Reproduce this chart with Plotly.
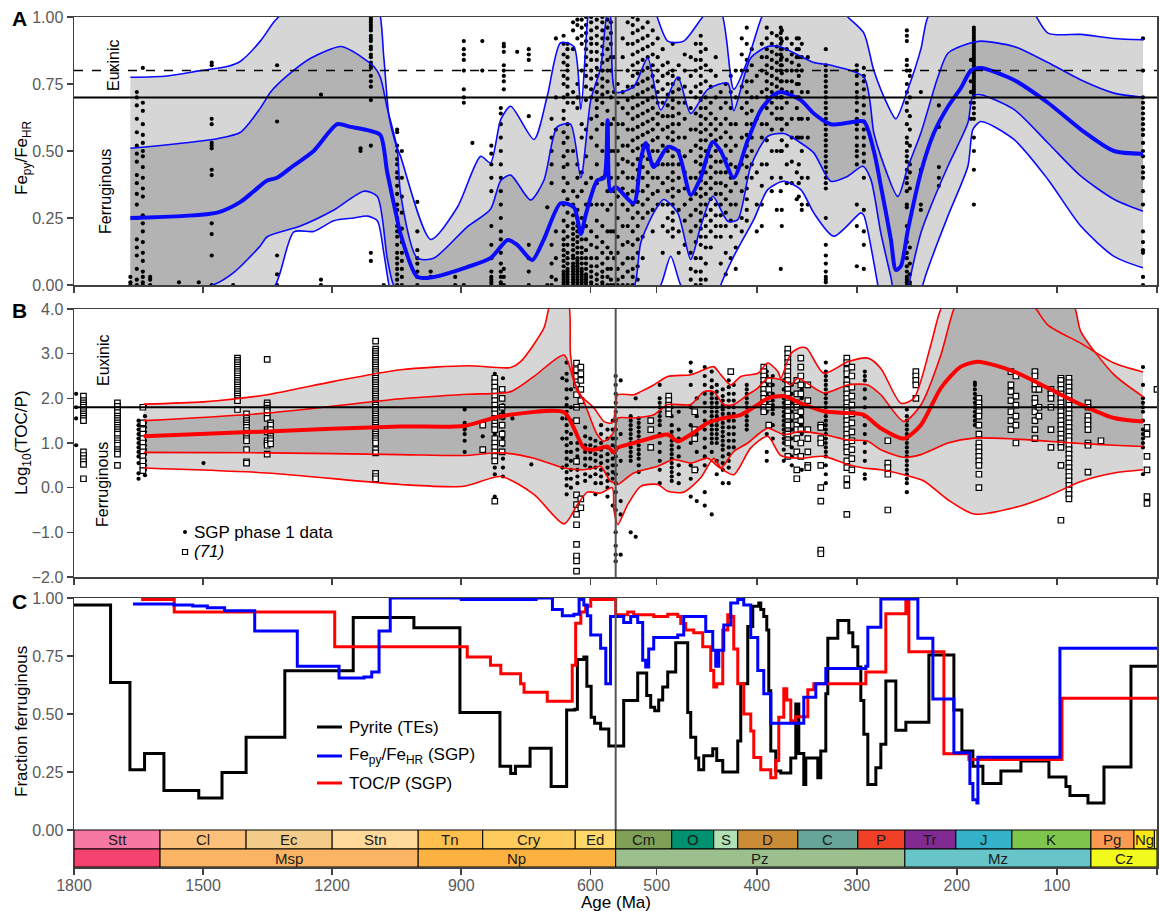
import numpy as np
import plotly.graph_objects as go

# ================= DATA =================
# ---- Panel A: Fe_py/Fe_HR data columns (age Ma -> values) ----
a_pt_ages = [1669, 1654, 1640, 1623, 1556, 1510, 1480, 1430, 1328, 1226, 1134, 1110, 1080, 1049, 1038, 1002, 971,
             914, 894, 874, 851, 830, 808, 801, 770, 743, 700, 690, 680,
             662, 653, 640, 630, 620, 610, 598, 585, 572, 560, 552, 545,
             539, 534, 529, 524, 519, 514, 509, 504, 499, 494, 489, 484, 478, 472, 466, 461, 456, 451, 446, 441,
             436, 431, 426, 421, 415, 410, 405, 400, 395, 390, 385, 380, 376, 375, 370, 365, 360, 358, 355, 349,
             331, 300, 293, 250, 247, 236, 218, 186, 183, 14]
a_pt_vals = [
    [0.0, 0.01, 0.03],
    [0.72, 0.70, 0.67, 0.62, 0.57, 0.52, 0.49, 0.46, 0.41, 0.38, 0.34, 0.30, 0.25, 0.17, 0.14, 0.11, 0.06, 0.02, 0.0],
    [0.81, 0.68, 0.65, 0.60, 0.56, 0.53, 0.50, 0.48, 0.44, 0.40, 0.36, 0.33, 0.26, 0.23, 0.20, 0.16, 0.12, 0.09, 0.05, 0.03, 0.01, 0.0],
    [0.03, 0.02, 0.0],
    [0.01],
    [0.01],
    [0.83, 0.82, 0.62, 0.60, 0.53, 0.52, 0.51, 0.43, 0.41, 0.23, 0.19, 0.11, 0.0],
    [0.0],
    [0.82, 0.61, 0.11, 0.04, 0.0],
    [0.71, 0.02, 0.0],
    [0.50, 0.51],
    [1.0, 0.99, 0.98, 0.97, 0.96, 0.95, 0.93, 0.92, 0.91, 0.89, 0.88, 0.86, 0.85, 0.83, 0.82, 0.81, 0.78, 0.76, 0.74, 0.69, 0.52, 0.12, 0.09],
    [0.0],
    [0.58, 0.57, 0.52, 0.50, 0.47, 0.45, 0.42, 0.40, 0.37, 0.34, 0.30, 0.28, 0.25, 0.22, 0.20, 0.18, 0.15, 0.12, 0.10, 0.08, 0.06, 0.04, 0.02, 0.0],
    [0.50, 0.40, 0.33, 0.27, 0.21, 0.16, 0.12, 0.09, 0.06, 0.03, 0.0],
    [0.31, 0.20, 0.13, 0.10, 0.08, 0.05, 0.03, 0.0],
    [0.05, 0.03],
    [0.03, 0.0],
    [0.91, 0.88, 0.86, 0.84, 0.80, 0.73, 0.70, 0.68, 0.0],
    [0.53],
    [0.91, 0.80],
    [0.52, 0.49, 0.45, 0.40, 0.35, 0.22, 0.15, 0.10, 0.05, 0.03, 0.02, 0.01, 0.0],
    [0.66, 0.64, 0.60, 0.55, 0.50, 0.45, 0.40, 0.35, 0.30, 0.25, 0.20, 0.17, 0.12, 0.08, 0.05, 0.03, 0.01, 0.0],
    [0.90, 0.89, 0.87, 0.82, 0.80, 0.78, 0.76, 0.73, 0.06, 0.03, 0.0],
    [0.87],
    [0.88, 0.86, 0.84, 0.63, 0.15, 0.10, 0.05, 0.0],
    [0.29, 0.0],
    [0.62, 0.55, 0.50, 0.45, 0.38, 0.15, 0.08, 0.03, 0.0],
    [0.92, 0.70, 0.58, 0.20, 0.10, 0.02],
    [0.93, 0.90, 0.86, 0.83, 0.78, 0.75, 0.70, 0.65, 0.62, 0.57, 0.53, 0.48, 0.44, 0.40, 0.35, 0.30, 0.24, 0.20, 0.17, 0.15, 0.13, 0.11, 0.09, 0.07, 0.05, 0.04, 0.03, 0.02, 0.01, 0.0],
    [0.90, 0.88, 0.85, 0.82, 0.80, 0.77, 0.74, 0.71, 0.68, 0.60, 0.55, 0.50, 0.45, 0.38, 0.32, 0.27, 0.22, 0.18, 0.15, 0.12, 0.10, 0.08, 0.06, 0.05, 0.04, 0.03, 0.02, 0.01, 0.0],
    [0.98, 0.95, 0.88, 0.72, 0.68, 0.50, 0.35, 0.30, 0.26, 0.23, 0.21, 0.19, 0.17, 0.15, 0.13, 0.11, 0.10, 0.08, 0.07, 0.06, 0.05, 0.04, 0.03, 0.02, 0.01, 0.0],
    [0.99, 0.97, 0.92, 0.75, 0.70, 0.66, 0.45, 0.40, 0.33, 0.28, 0.25, 0.22, 0.20, 0.18, 0.16, 0.14, 0.12, 0.10, 0.09, 0.08, 0.07, 0.06, 0.05, 0.04, 0.03, 0.02, 0.01, 0.0],
    [0.99, 0.96, 0.93, 0.90, 0.80, 0.60, 0.55, 0.42, 0.35, 0.25, 0.20, 0.17, 0.14, 0.12, 0.10, 0.08, 0.06, 0.05, 0.04, 0.03, 0.02, 0.01, 0.0],
    [1.0, 0.97, 0.94, 0.91, 0.88, 0.85, 0.82, 0.78, 0.74, 0.69, 0.58, 0.48, 0.38, 0.30, 0.22, 0.17, 0.13, 0.10, 0.08, 0.06, 0.04, 0.03, 0.02, 0.01, 0.0],
    [1.0, 0.98, 0.95, 0.92, 0.90, 0.87, 0.84, 0.80, 0.77, 0.73, 0.70, 0.62, 0.55, 0.40, 0.30, 0.20, 0.15, 0.10, 0.07, 0.05, 0.03, 0.01, 0.0],
    [0.99, 0.96, 0.93, 0.90, 0.87, 0.84, 0.81, 0.78, 0.75, 0.72, 0.69, 0.66, 0.63, 0.58, 0.52, 0.45, 0.38, 0.30, 0.24, 0.18, 0.14, 0.10, 0.07, 0.04, 0.02, 0.0],
    [1.0, 0.98, 0.95, 0.92, 0.89, 0.86, 0.83, 0.80, 0.77, 0.74, 0.71, 0.68, 0.60, 0.50, 0.40, 0.30, 0.22, 0.16, 0.12, 0.08, 0.05, 0.03, 0.01, 0.0],
    [0.99, 0.96, 0.92, 0.88, 0.84, 0.80, 0.76, 0.72, 0.65, 0.55, 0.45, 0.35, 0.28, 0.20, 0.14, 0.10, 0.06, 0.03, 0.0],
    [0.98, 0.94, 0.90, 0.85, 0.80, 0.70, 0.60, 0.50, 0.40, 0.30, 0.20, 0.12, 0.06, 0.02, 0.0],
    [0.85, 0.72, 0.62, 0.50, 0.35, 0.20, 0.10, 0.0],
    [0.75, 0.68, 0.60, 0.55, 0.50, 0.45, 0.40, 0.33, 0.25, 0.18, 0.12, 0.06, 0.02, 0.0],
    [0.92, 0.85, 0.72, 0.66, 0.60, 0.52, 0.47, 0.42, 0.36, 0.30, 0.22, 0.15, 0.08, 0.03, 0.0],
    [0.98, 0.90, 0.80, 0.74, 0.69, 0.64, 0.58, 0.52, 0.46, 0.40, 0.34, 0.28, 0.22, 0.16, 0.10, 0.05, 0.0],
    [1.0, 0.97, 0.94, 0.90, 0.86, 0.82, 0.78, 0.74, 0.70, 0.66, 0.62, 0.58, 0.54, 0.50, 0.45, 0.40, 0.35, 0.30, 0.25, 0.20, 0.15, 0.10, 0.06, 0.03, 0.0],
    [0.99, 0.95, 0.91, 0.87, 0.83, 0.79, 0.75, 0.71, 0.67, 0.63, 0.59, 0.55, 0.51, 0.47, 0.43, 0.39, 0.35, 0.31, 0.27, 0.22, 0.17, 0.12, 0.07, 0.02],
    [0.96, 0.92, 0.88, 0.84, 0.80, 0.76, 0.72, 0.68, 0.64, 0.60, 0.56, 0.52, 0.48, 0.44, 0.40, 0.35, 0.30, 0.25, 0.18, 0.10],
    [0.98, 0.93, 0.89, 0.85, 0.81, 0.77, 0.73, 0.69, 0.65, 0.61, 0.57, 0.52, 0.47, 0.42, 0.37, 0.32, 0.27],
    [0.95, 0.90, 0.86, 0.82, 0.78, 0.74, 0.70, 0.66, 0.62, 0.58, 0.54, 0.50, 0.45, 0.40, 0.34, 0.28, 0.20],
    [0.92, 0.85, 0.80, 0.76, 0.72, 0.68, 0.64, 0.60, 0.55, 0.50, 0.45, 0.40, 0.35, 0.30],
    [0.88, 0.82, 0.78, 0.73, 0.68, 0.63, 0.58, 0.52, 0.45, 0.38, 0.30, 0.22, 0.12],
    [0.83, 0.79, 0.75, 0.71, 0.67, 0.63, 0.59, 0.55, 0.50, 0.45, 0.40, 0.35, 0.30, 0.25, 0.20],
    [0.90, 0.80, 0.78, 0.75, 0.72, 0.69, 0.66, 0.63, 0.60, 0.57, 0.54, 0.51, 0.48, 0.45, 0.42, 0.39, 0.36, 0.33, 0.30, 0.27, 0.24, 0.21, 0.18],
    [0.82, 0.77, 0.73, 0.68, 0.64, 0.60, 0.55, 0.50, 0.45, 0.40, 0.35, 0.28, 0.20, 0.12],
    [0.86, 0.80, 0.74, 0.68, 0.62, 0.55, 0.48, 0.42, 0.36, 0.30, 0.24, 0.15],
    [0.85, 0.78, 0.72, 0.66, 0.58, 0.50, 0.40, 0.32, 0.26, 0.20, 0.12, 0.06, 0.02],
    [0.90, 0.84, 0.80, 0.74, 0.70, 0.64, 0.58, 0.52, 0.46, 0.40, 0.34, 0.28, 0.22, 0.16, 0.10, 0.05, 0.0],
    [0.93, 0.90, 0.87, 0.84, 0.81, 0.78, 0.75, 0.72, 0.69, 0.66, 0.63, 0.60, 0.57, 0.54, 0.51, 0.48, 0.45, 0.42, 0.39, 0.36, 0.33, 0.30, 0.27, 0.24, 0.21, 0.18, 0.15, 0.10, 0.05, 0.02, 0.0],
    [0.88, 0.82, 0.76, 0.70, 0.66, 0.62, 0.58, 0.54, 0.50, 0.46, 0.42, 0.38, 0.34, 0.30, 0.26, 0.22, 0.18, 0.14, 0.08, 0.02],
    [0.80, 0.74, 0.68, 0.64, 0.60, 0.56, 0.52, 0.48, 0.44, 0.40, 0.36, 0.32, 0.28, 0.24, 0.20, 0.14],
    [0.85, 0.78, 0.70, 0.62, 0.58, 0.54, 0.50, 0.46, 0.42, 0.38, 0.34, 0.30, 0.26, 0.22, 0.18],
    [0.72, 0.66, 0.60, 0.55, 0.50, 0.46, 0.42, 0.38, 0.34, 0.30, 0.26, 0.22, 0.18, 0.08],
    [0.75, 0.68, 0.62, 0.57, 0.52, 0.47, 0.42, 0.37, 0.32, 0.27, 0.22, 0.12, 0.04],
    [0.78, 0.72, 0.66, 0.60, 0.55, 0.50, 0.45, 0.40, 0.35, 0.30, 0.24, 0.18, 0.10],
    [0.80, 0.70, 0.60, 0.52, 0.44, 0.38, 0.30, 0.22, 0.14, 0.06],
    [0.92, 0.86, 0.80, 0.74, 0.66, 0.55, 0.45, 0.35, 0.25, 0.20],
    [0.96, 0.90, 0.84, 0.80, 0.76, 0.72, 0.68, 0.64, 0.60, 0.56, 0.52, 0.48, 0.44, 0.40, 0.36, 0.32, 0.28, 0.24],
    [0.88, 0.82, 0.76, 0.70, 0.65, 0.60, 0.55, 0.50, 0.45, 0.40],
    [0.78, 0.70, 0.62, 0.42, 0.30, 0.20],
    [0.90, 0.85, 0.80, 0.72, 0.60, 0.55, 0.45, 0.37, 0.30, 0.22],
    [0.96, 0.92, 0.88, 0.85, 0.82, 0.79, 0.76, 0.73, 0.70, 0.66, 0.60, 0.54, 0.45],
    [0.94, 0.90, 0.87, 0.84, 0.81, 0.78, 0.75, 0.72, 0.68, 0.64, 0.58, 0.50, 0.40, 0.35],
    [0.93, 0.89, 0.86, 0.83, 0.80, 0.77, 0.74, 0.70, 0.66, 0.62, 0.50, 0.28],
    [0.96, 0.94, 0.92, 0.90, 0.88, 0.86, 0.84, 0.82, 0.80, 0.76, 0.70, 0.62, 0.50, 0.40, 0.35, 0.06],
    [0.95, 0.91, 0.88, 0.85, 0.82, 0.79, 0.76, 0.73, 0.70, 0.66, 0.62, 0.58, 0.54, 0.50, 0.28, 0.22],
    [0.92, 0.88, 0.84, 0.80, 0.76, 0.72, 0.68, 0.60, 0.52, 0.45, 0.38],
    [0.90, 0.86, 0.83, 0.80, 0.76, 0.72, 0.62, 0.55, 0.46, 0.38],
    [0.92, 0.88, 0.85, 0.80, 0.75, 0.70, 0.66, 0.55, 0.42, 0.32],
    [0.92, 0.88, 0.85, 0.82, 0.78, 0.75, 0.70, 0.62, 0.55, 0.45, 0.38, 0.33],
    [0.90, 0.85, 0.80, 0.72, 0.62, 0.55, 0.50, 0.40, 0.30, 0.28],
    [0.85, 0.72, 0.62, 0.55, 0.40, 0.30],
    [0.88, 0.82, 0.80, 0.78, 0.76, 0.74, 0.72, 0.70, 0.68, 0.66, 0.64, 0.62, 0.60, 0.58, 0.56, 0.54, 0.52, 0.50, 0.48, 0.46, 0.44, 0.42, 0.40, 0.38, 0.36, 0.25, 0.15, 0.11, 0.08, 0.05, 0.03, 0.02, 0.01],
    [0.82, 0.80, 0.78, 0.75, 0.72, 0.70, 0.68, 0.65, 0.62, 0.60, 0.58, 0.55, 0.52, 0.50, 0.48, 0.45, 0.30, 0.22, 0.07],
    [0.81, 0.78, 0.76, 0.73, 0.70, 0.67, 0.64, 0.61, 0.58, 0.55, 0.52, 0.49, 0.46, 0.40, 0.28, 0.20, 0.15, 0.06],
    [0.95, 0.93, 0.91, 0.84, 0.82, 0.80, 0.75, 0.72, 0.68, 0.65, 0.60, 0.55, 0.53, 0.50, 0.48, 0.46, 0.43, 0.40, 0.38, 0.35, 0.30, 0.29, 0.22, 0.16, 0.12, 0.10, 0.07, 0.05, 0.03, 0.02, 0.01, 0.0],
    [0.80, 0.78, 0.70, 0.63, 0.58, 0.52, 0.45, 0.42, 0.36, 0.14, 0.08, 0.04, 0.01, 0.0],
    [0.72, 0.43, 0.30, 0.28],
    [0.67, 0.59, 0.44, 0.40, 0.37],
    [0.84, 0.80, 0.76, 0.72, 0.68, 0.62],
    [0.96, 0.95, 0.94, 0.93, 0.92, 0.91, 0.90, 0.89, 0.88, 0.87, 0.86, 0.85, 0.84, 0.83, 0.82, 0.81, 0.80, 0.79, 0.78, 0.77, 0.76, 0.75, 0.74, 0.73, 0.72, 0.71, 0.70, 0.68, 0.66, 0.64, 0.62, 0.55, 0.50, 0.43, 0.30],
    [0.92, 0.80, 0.70, 0.68, 0.66, 0.64, 0.62, 0.60, 0.58, 0.56, 0.53, 0.50, 0.48, 0.44, 0.42, 0.40, 0.35, 0.30, 0.20, 0.16, 0.13, 0.12, 0.03, 0.0],
]

# Panel A model envelopes (age Ma, value)
a_ou_age = [1669, 1584, 1506, 1444, 1413, 1367, 1336, 1312, 1250, 1150, 1095, 1080, 1068, 1053, 1041, 971, 909, 855, 832, 808, 785, 731, 700, 669, 638, 622, 606, 590, 541, 510, 489, 473, 449, 436, 423, 409, 395, 380, 320, 309, 293, 283, 269, 261, 249, 236, 229, 200, 130, 109, 76, 43, 14]
a_ou_val = [0.775, 0.78, 0.80, 0.815, 0.835, 0.91, 0.98, 1.02, 1.10, 1.12, 1.05, 0.85, 0.63, 0.53, 0.48, 0.17, 0.29, 0.48, 0.456, 0.618, 0.667, 0.543, 0.705, 0.904, 0.89, 0.655, 1.0, 1.2, 1.2, 1.1, 0.91, 0.91, 1.02, 1.02, 0.73, 0.84, 1.0, 1.1, 1.05, 1.0, 0.94, 0.80, 0.67, 0.62, 0.73, 0.88, 1.0, 1.15, 1.05, 0.94, 0.935, 0.92, 0.915]
a_iu_age = [1669, 1467, 1413, 1367, 1343, 1305, 1250, 1180, 1150, 1103, 1088, 1072, 1049, 1041, 1002, 964, 886, 832, 808, 785, 739, 708, 677, 646, 622, 599, 576, 560, 553, 541, 523, 509, 496, 479, 466, 449, 429, 423, 406, 389, 376, 343, 326, 293, 283, 276, 259, 249, 236, 219, 209, 189, 176, 143, 109, 76, 43, 14]
a_iu_val = [0.51, 0.546, 0.57, 0.66, 0.72, 0.78, 0.846, 0.89, 0.87, 0.815, 0.775, 0.66, 0.51, 0.34, 0.10, 0.10, 0.217, 0.283, 0.39, 0.41, 0.317, 0.39, 0.59, 0.60, 0.40, 0.69, 0.81, 1.02, 1.0, 0.72, 0.74, 0.847, 0.653, 0.776, 0.64, 0.73, 0.753, 0.65, 0.847, 0.89, 0.888, 0.83, 0.82, 0.776, 0.567, 0.48, 0.33, 0.44, 0.567, 0.776, 0.865, 0.90, 0.91, 0.89, 0.83, 0.765, 0.716, 0.70]
a_md_age = [1669, 1467, 1413, 1382, 1351, 1328, 1289, 1243, 1188, 1157, 1118, 1088, 1072, 1049, 1041, 1002, 964, 886, 832, 792, 770, 735, 708, 669, 638, 622, 611, 584, 568, 560, 553, 541, 523, 516, 511, 503, 489, 479, 466, 456, 444, 436, 423, 409, 396, 383, 376, 356, 343, 326, 309, 293, 283, 276, 266, 261, 256, 249, 236, 223, 209, 196, 186, 176, 143, 109, 76, 43, 14]
a_md_val = [0.25, 0.27, 0.31, 0.35, 0.39, 0.40, 0.446, 0.50, 0.60, 0.59, 0.578, 0.56, 0.42, 0.246, 0.19, 0.03, 0.03, 0.067, 0.10, 0.168, 0.15, 0.093, 0.17, 0.305, 0.29, 0.19, 0.26, 0.39, 0.40, 0.615, 0.35, 0.366, 0.305, 0.467, 0.53, 0.44, 0.515, 0.50, 0.336, 0.40, 0.534, 0.50, 0.40, 0.54, 0.653, 0.709, 0.72, 0.69, 0.64, 0.60, 0.605, 0.61, 0.50, 0.37, 0.17, 0.056, 0.07, 0.205, 0.42, 0.567, 0.665, 0.735, 0.80, 0.81, 0.765, 0.68, 0.58, 0.50, 0.49]
a_il_age = [1669, 1477, 1429, 1367, 1351, 1274, 1196, 1126, 1095, 1072, 1057, 1041, 1010, 700, 541, 523, 516, 503, 493, 479, 466, 456, 444, 429, 419, 406, 389, 373, 356, 343, 326, 309, 294, 286, 276, 266, 261, 249, 248, 236, 226, 209, 189, 184, 176, 143, 109, 76, 43, 14]
a_il_val = [-0.05, 0.0, 0.046, 0.146, 0.18, 0.22, 0.28, 0.35, 0.33, 0.10, 0.0, -0.02, -0.05, -0.05, -0.05, -0.01, 0.157, 0.269, 0.319, 0.269, 0.095, 0.219, 0.331, 0.238, 0.244, 0.443, 0.555, 0.565, 0.53, 0.493, 0.387, 0.406, 0.443, 0.394, 0.194, 0.03, -0.05, -0.05, 0.0, 0.194, 0.294, 0.443, 0.605, 0.705, 0.71, 0.655, 0.53, 0.406, 0.32, 0.275]
a_ol_age = [1669, 1400, 1332, 1289, 1243, 1196, 1150, 1118, 1095, 1080, 1068, 1041, 700, 541, 503, 496, 486, 476, 470, 440, 436, 423, 403, 389, 373, 356, 343, 323, 296, 293, 279, 270, 240, 234, 209, 189, 184, 176, 143, 109, 76, 43, 14]
a_ol_val = [-0.2, -0.1, 0.0, 0.198, 0.20, 0.24, 0.25, 0.257, 0.24, 0.12, 0.0, -0.2, -0.3, -0.3, -0.02, 0.0, 0.107, 0.0, -0.02, -0.05, 0.0, 0.107, 0.244, 0.356, 0.387, 0.356, 0.269, 0.182, 0.269, 0.26, 0.0, -0.2, -0.2, 0.0, 0.257, 0.443, 0.58, 0.61, 0.543, 0.394, 0.219, 0.107, 0.064]

# ---- Panel B: Log10(TOC/P) ----
b_dot_ages = [1795, 1650, 1635, 1499, 892, 850, 822, 803, 781, 737, 665, 655, 645, 630, 612, 600, 588, 575, 560, 548,
              541, 536, 526, 521, 518, 497, 485, 478, 466, 460, 452, 445, 440, 434, 428, 423, 410, 390, 384, 373, 365,
              355, 331, 292, 250, 182, 14]
b_dot_vals = [
    [2.1, 1.8, 1.55, 0.95],
    [1.50, 1.40, 1.30, 1.20, 1.10, 1.00, 0.90, 0.80, 0.70, 0.55, 0.32, 0.20],
    [1.82, 1.60, 1.45, 1.35, 1.25, 1.15, 1.05, 0.95, 0.85, 0.75, 0.60, 0.50, 0.40, 0.28],
    [0.55],
    [1.75, 1.45, 1.40, 1.35, 1.30, 1.20, 1.05, 0.80],
    [1.15],
    [2.55, 2.30, 2.10, 1.95, 1.80, 1.65, 1.50, 1.35, 1.20, 1.05, 0.90, 0.75, 0.60, 0.45, 0.30, -0.20],
    [2.45, 2.20, 2.00, 1.85, 1.70, 1.55, 1.40, 1.25, 1.10, 0.95, 0.80, 0.65, 0.45, 0.25],
    [1.55],
    [0.52],
    [2.45, 1.55, 1.10, 0.45],
    [2.80, 2.55, 2.40, 2.20, 2.00, 1.85, 1.70, 1.55, 1.40, 1.25, 1.10, 0.95, 0.80, 0.65, 0.50, 0.35, 0.20, 0.05, -0.15],
    [2.20, 1.80, 1.50, 1.20, 1.00, 0.80, 0.60, 0.40, 0.20, 0.00],
    [1.00, 0.85, 0.70, 0.55, 0.40, 0.25, 0.10],
    [1.35, 1.15, 0.95, 0.80, 0.65, 0.50, 0.30, 0.15],
    [1.10, 0.95, 0.80, 0.65, 0.45, 0.25],
    [1.05, 0.90, 0.75, 0.60, 0.45, 0.30, 0.10, -0.15],
    [1.40, 1.20, 1.00, 0.85, 0.70, 0.55, 0.40, 0.25, 0.10],
    [1.30, 1.10, 0.90, 0.75, 0.60, 0.45, 0.30, 0.15, 0.00, -0.20],
    [1.50, 1.30, 1.10, 0.95, 0.80, 0.65, 0.50, 0.35, 0.20, -0.40],
    [2.50, 2.30, 2.10, 1.90, 1.70, 1.50, 1.30, 1.10, 0.90, 0.70, 0.50, 0.30, 0.10, -0.10, -0.50, -1.00, -1.30, -1.50, -1.65],
    [2.40, 1.20, 0.60, -0.30, -0.60, -1.50],
    [1.60, 1.50, 1.40, 1.30, 1.20, 1.10, 1.00, 0.90, 0.80, 0.70, 0.60, -1.00],
    [2.00, -1.10],
    [1.55, 1.45, 1.35, 1.25, 1.15, 1.05, 0.95, 0.85, 0.75, 0.65, 0.50, 0.35],
    [2.30, 2.00, 1.90, 1.80, 1.70, 1.60, 1.50, 1.40, 1.20, 1.00, 0.80, 0.60, 0.40, 0.10],
    [1.80, 1.60, 1.40, 1.25, 1.15, 1.05, 0.95, 0.85, 0.75, 0.65, 0.55, 0.45, 0.35, 0.25, 0.15],
    [1.70, 1.30, 1.10, 0.90, 0.70, 0.50, 0.30, 0.10],
    [2.80, 2.60, 2.30, 1.80, 1.40, 1.00, 0.50, 0.20, -0.20],
    [2.00, 1.60, 1.20, 0.80, 0.40, -0.30],
    [2.70, 2.50, 2.30, 2.10, 1.90, 1.70, 1.50, 1.30, 1.10, 0.90, 0.70, 0.50, -0.10, -0.40],
    [2.60, 2.40, 2.25, 2.10, 2.00, 1.90, 1.80, 1.70, 1.60, 1.50, 1.40, 1.30, 1.20, 1.10, 1.00, 0.80, -0.60],
    [2.30, 2.15, 2.00, 1.90, 1.80, 1.70, 1.60, 1.50, 1.40, 1.30, 1.20, 1.10, 1.00, 0.60, 0.30],
    [2.20, 2.05, 1.95, 1.85, 1.75, 1.65, 1.55, 1.45, 1.35, 1.25, 1.15, 1.05, 0.95, 0.85, 0.70, 0.55, 0.40, 0.10],
    [2.40, 2.25, 2.10, 1.95, 1.80, 1.65, 1.50, 1.35, 1.20, 1.05, 0.90, 0.75, 0.60, 0.45, 0.10],
    [2.30, 2.10, 1.95, 1.80, 1.65, 1.50, 1.35, 1.20, 1.05, 0.90],
    [2.30, 2.20, 2.10, 2.00, 1.90, 1.80, 1.70, 1.60, 1.50, 1.40, 1.30],
    [2.60, 2.50, 2.40, 2.30, 2.20, 2.10, 2.00, 1.90, 1.80, 1.70, 1.20, 0.80, 0.60],
    [2.50, 2.30, 2.10, 1.95, 1.85, 1.75, 1.65, 1.40, 1.10],
    [2.40, 2.20, 2.00, 1.90, 1.80, 1.70, 1.60, 1.50, 1.40, 1.30, 1.20, 1.10, 1.00, 0.85, 0.60],
    [2.30, 2.10, 1.90, 1.70, 1.50, 1.30, 1.10, 0.90, 0.70, 0.50],
    [2.20, 2.00, 1.80, 1.60, 1.40, 1.20, 1.00, 0.70, 0.40],
    [2.80, 2.60, 2.50, 2.40, 2.30, 2.20, 2.10, 2.00, 1.90, 1.80, 1.70, 1.60, 1.50, 1.40, 1.30, 1.20, 1.10, 1.00, 0.90, 0.80, 0.70, 0.50, 0.30, 0.10],
    [2.60, 2.50, 2.40, 2.20, 2.00, 1.80, 1.60, 1.40, 1.20, 1.00, 0.80, 0.60, 0.30, 0.20],
    [1.75, 1.60, 1.50, 1.40, 1.30, 1.20, 1.10, 1.00, 0.90, 0.80, 0.70, 0.60, 0.50, 0.40, 0.30, 0.20, 0.10, -0.10],
    [2.35, 2.30, 2.20, 2.10, 2.00, 1.90, 1.80, 1.70, 1.60, 1.50, 1.40],
    [2.70, 2.30, 2.00, 1.90, 1.80, 1.70, 1.50, 1.30, 1.20, 1.10, 1.00, 0.90, 0.30],
]
b_sq_ages = [1778, 1699, 1640, 1420, 1399, 1351, 1343, 1099, 850, 822, 805, 632, 622, 506, 488, 462, 426, 393, 388,
             369, 360, 356, 349, 336, 310, 305, 269, 241, 178, 146, 141, 122, 118, 106, 96, 88, 69, 56, 10, 0]
b_sq_vals = [
    [2.05, 1.95, 1.90, 1.85, 1.80, 1.75, 1.70, 1.65, 1.60, 1.55, 1.50, 0.80, 0.72, 0.65, 0.58, 0.52, 0.20],
    [1.90, 1.82, 1.75, 1.68, 1.60, 1.55, 1.50, 1.45, 1.40, 1.35, 1.30, 1.25, 1.20, 1.10, 1.05, 1.00, 0.95, 0.85, 0.80, 0.75, 0.50],
    [1.80, 1.45, 1.30, 1.20, 1.10, 1.00, 0.90, 0.80, 0.70, 0.60, 0.48, 0.38],
    [2.90, 2.85, 2.80, 2.75, 2.70, 2.65, 2.60, 2.55, 2.50, 2.45, 2.40, 2.35, 2.30, 2.25, 2.20, 2.15, 2.10, 2.05, 2.00, 1.95, 1.75],
    [1.65, 1.55, 1.50, 1.45, 1.40, 1.35, 1.28, 1.22, 1.15, 1.10, 1.05, 0.85, 0.58, 0.55],
    [2.87, 1.90, 1.85, 1.78, 1.70, 1.62, 1.55, 1.30, 1.25, 1.05, 1.00, 0.95, 0.75],
    [1.45, 1.40, 1.30, 1.20, 1.15, 1.10, 1.05, 0.98],
    [3.28, 3.10, 3.05, 3.00, 2.95, 2.90, 2.85, 2.80, 2.75, 2.70, 2.65, 2.60, 2.55, 2.50, 2.45, 2.40, 2.35, 2.30, 2.25, 2.20, 2.15, 2.10, 2.05, 2.00, 1.95, 1.90, 1.85, 1.80, 1.75, 1.70, 1.65, 1.60, 1.55, 1.50, 1.45, 1.40, 1.35, 1.30, 1.25, 1.20, 1.15, 1.10, 1.05, 1.00, 0.85, 0.78, 0.32, 0.25, 0.20],
    [1.40, 0.85],
    [2.45, 2.35, 2.25, 2.15, 2.05, 1.95, 1.85, 1.75, 1.65, 1.55, 1.45, 1.38, 1.30, 1.10, 1.00, 0.90, 0.80, 0.70, 0.60, -0.30],
    [2.20, 2.00, 1.80, 1.60, 1.40, 1.20, 1.00, 0.80],
    [2.79, 2.64, 2.49, 2.30, 2.08, 1.80, 1.50, 0.59, -0.16, -0.38, -0.60, -0.83, -1.27, -1.53, -1.64, -1.87],
    [2.70, 2.55, 2.40, 2.20, 1.95, -0.25, -0.45],
    [1.50, 1.30, 0.90],
    [2.05, 1.95, 1.85, 1.75, 1.65],
    [1.70, 1.30, 1.10, 0.40],
    [2.60],
    [2.70, 2.60, 2.50, 2.40, 2.30, 2.20, 2.10, 2.00, 1.90, 1.80, 1.70],
    [2.40, 2.20, 2.00, 1.80, 1.40],
    [3.10, 3.00, 2.90, 2.80, 2.70, 2.60, 2.50, 2.40, 2.30, 2.20, 2.10, 2.00, 1.90, 1.80, 1.70, 1.60, 1.40, 1.20, 1.00, 0.70],
    [2.40, 2.10, 1.90, 1.80, 1.60, 1.40, 1.30, 1.10, 0.80, 0.40, 0.20],
    [2.90, 2.70, 2.50, 2.30, 2.10, 1.70, 1.50, 1.30, 1.00, 0.70],
    [2.30, 1.95, 1.30, 1.10, 0.80, 0.50, 0.45],
    [1.40, 1.35, 1.10, 1.00, 0.50, 0.00, -0.30, -1.40, -1.48],
    [2.90, 2.80, 2.65, 2.55, 2.40, 2.30, 2.20, 2.10, 2.00, 1.90, 1.80, 1.70, 1.60, 1.50, 1.40, 1.30, 1.20, 1.10, 1.00, 0.90, 0.80, 0.60, 0.45, 0.20, 0.05, -0.60],
    [2.70, 2.50, 2.25, 2.05, 1.85, 1.65, 1.45, 1.25, 1.05, 0.85, 0.65, 0.40],
    [1.05, 0.55, 0.45, 0.30, -0.50],
    [2.60, 2.50, 2.40, 2.30, 2.00],
    [2.00, 1.90, 1.80, 1.70, 1.60, 1.40, 1.20, 1.00, 0.90, 0.80, 0.70, 0.60, 0.50, 0.30, 0.00],
    [2.60, 2.30, 2.15, 1.95, 1.70, 1.50, 1.30],
    [2.50, 2.05, 1.85, 1.60, 1.40, 1.00],
    [2.60, 2.50, 2.30, 2.20, 2.00, 1.90, 1.70, 1.50, 1.30, 1.10],
    [2.20, 1.80, 1.60],
    [2.20, 2.10, 2.00, 1.80, 1.30, 0.90],
    [2.45, 2.40, 2.30, 2.20, 2.10, 2.00, 1.90, 1.80, 1.70, 1.60, 1.50, 1.40, 1.30, 1.20, 1.10, 1.00, 0.90, 0.50, -0.73],
    [2.45, 2.35, 2.25, 2.15, 2.05, 1.95, 1.85, 1.75, 1.65, 1.55, 1.45, 1.35, 1.25, 1.15, 1.05, 0.95, 0.85, 0.75, 0.65, 0.55, 0.45, 0.35, 0.25, 0.15, 0.05, -0.05, -0.15, -0.25],
    [1.90, 1.80, 1.60, 1.50, 1.40, 1.30, 1.00, 0.95, 0.35],
    [1.05],
    [1.35, 1.20, 0.70, 0.40, -0.20, -0.35],
    [2.20],
]

b_ou_age = [1638, 1500, 1351, 1196, 1041, 886, 785, 762, 708, 689, 653, 646, 630, 591, 568, 549, 541, 539, 523, 516, 503, 489, 466, 453, 443, 436, 426, 416, 399, 389, 379, 376, 366, 356, 350, 333, 309, 289, 276, 256, 243, 226, 216, 200, 129, 109, 76, 43, 14]
b_ou_val = [1.87, 1.92, 2.08, 2.38, 2.64, 2.73, 2.69, 2.82, 3.57, 4.2, 4.2, 2.97, 2.15, 1.78, 1.48, 1.45, 1.8, 2.08, 2.08, 2.15, 2.30, 2.49, 2.53, 2.64, 2.71, 2.53, 2.30, 2.49, 2.56, 2.79, 2.6, 2.45, 3.0, 3.14, 3.12, 2.56, 2.82, 2.90, 2.67, 1.89, 2.0, 3.2, 4.0, 4.5, 4.2, 3.64, 3.23, 2.79, 2.59]
b_iu_age = [1638, 1351, 1041, 886, 785, 731, 661, 638, 615, 584, 568, 549, 541, 539, 523, 503, 489, 466, 453, 443, 433, 423, 409, 399, 389, 373, 366, 359, 333, 309, 289, 276, 253, 236, 216, 203, 190, 86, 76, 43, 14]
b_iu_val = [1.50, 1.67, 1.99, 2.09, 2.15, 2.49, 2.97, 2.38, 1.93, 1.19, 1.04, 1.19, 1.4, 1.56, 1.56, 1.63, 1.86, 1.86, 2.15, 2.15, 1.86, 1.86, 2.08, 2.23, 2.45, 2.40, 2.30, 2.45, 2.12, 2.30, 2.30, 2.08, 1.48, 1.85, 2.97, 4.0, 4.5, 4.2, 3.49, 2.53, 2.04]
b_md_age = [1638, 1351, 1041, 894, 808, 661, 638, 615, 591, 560, 545, 539, 523, 499, 489, 479, 466, 449, 433, 416, 399, 389, 373, 356, 333, 309, 293, 276, 253, 236, 216, 196, 179, 143, 109, 76, 43, 14]
b_md_val = [1.15, 1.26, 1.37, 1.38, 1.60, 1.69, 1.33, 0.89, 0.85, 0.92, 0.78, 0.89, 1.0, 1.15, 1.19, 1.04, 1.19, 1.45, 1.56, 1.63, 1.86, 2.0, 2.05, 1.89, 1.71, 1.67, 1.63, 1.33, 1.10, 1.4, 2.23, 2.71, 2.82, 2.60, 2.23, 1.86, 1.56, 1.48]
b_il_age = [1638, 1351, 1041, 894, 808, 731, 661, 622, 591, 576, 553, 541, 539, 523, 499, 483, 466, 449, 436, 423, 409, 399, 389, 373, 356, 333, 309, 289, 276, 253, 236, 209, 183, 143, 109, 76, 43, 14]
b_il_val = [0.79, 0.78, 0.74, 0.72, 0.78, 0.66, 0.44, 0.40, 0.44, 0.48, 0.14, 0.10, 0.07, 0.33, 0.48, 0.63, 0.55, 0.66, 0.44, 0.81, 1.0, 1.19, 1.33, 1.19, 1.26, 1.19, 1.07, 1.04, 0.85, 0.68, 0.74, 1.0, 1.11, 1.09, 1.04, 0.99, 0.95, 0.92]
b_ol_age = [1638, 1351, 1041, 894, 808, 731, 661, 630, 607, 576, 549, 545, 539, 529, 516, 499, 489, 473, 456, 443, 436, 423, 406, 389, 376, 356, 333, 309, 293, 276, 253, 233, 209, 183, 143, 109, 76, 43, 14]
b_ol_val = [0.44, 0.33, 0.07, 0.03, 0.25, -0.15, -0.81, -0.38, -0.1, -0.12, 0.0, -0.5, -0.83, -0.38, 0.03, 0.07, -0.08, -0.1, 0.22, 0.66, 0.44, 0.29, 0.89, 1.15, 0.72, 0.66, 0.7, 0.52, 0.44, 0.40, 0.29, 0.15, -0.27, -0.59, -0.45, -0.19, 0.14, 0.33, 0.40]

# ---- Panel C: fraction ferruginous (step series: age where step starts, value) ----
c_pyr_age = [1800, 1715, 1670, 1636, 1591, 1510, 1456, 1400, 1310, 1151, 1010, 903, 810, 785, 774, 740, 691, 655, 636, 630, 615, 608, 598, 590, 576, 557, 533, 519, 510, 506, 502, 498, 494, 489, 481, 469, 466, 461, 458, 453, 444, 440, 434, 419, 416, 409, 404, 398, 396, 393, 390, 388, 386, 381, 376, 366, 361, 358, 353, 351, 339, 336, 331, 329, 319, 308, 304, 299, 296, 293, 289, 281, 276, 271, 261, 251, 228, 203, 195, 184, 174, 156, 136, 108, 91, 87, 69, 53, 26, 0]
c_pyr_val = [0.97, 0.636, 0.26, 0.33, 0.17, 0.138, 0.248, 0.40, 0.686, 0.916, 0.872, 0.507, 0.275, 0.243, 0.275, 0.352, 0.188, 0.517, 0.52, 0.735, 0.746, 0.62, 0.486, 0.46, 0.435, 0.362, 0.558, 0.677, 0.58, 0.529, 0.514, 0.56, 0.616, 0.681, 0.807, 0.507, 0.40, 0.31, 0.26, 0.32, 0.35, 0.30, 0.25, 0.384, 0.63, 0.877, 0.964, 0.978, 0.95, 0.92, 0.862, 0.60, 0.34, 0.254, 0.246, 0.31, 0.543, 0.33, 0.196, 0.31, 0.225, 0.34, 0.587, 0.826, 0.903, 0.85, 0.79, 0.703, 0.558, 0.413, 0.196, 0.268, 0.37, 0.642, 0.43, 0.464, 0.754, 0.517, 0.34, 0.275, 0.20, 0.254, 0.297, 0.228, 0.188, 0.149, 0.116, 0.272, 0.706, 0.706]
c_fe_age = [1663, 1568, 1524, 1490, 1450, 1380, 1281, 1184, 1126, 1108, 1091, 1065, 900, 726, 688, 665, 638, 626, 615, 607, 599, 576, 564, 555, 553, 533, 526, 519, 514, 511, 508, 503, 479, 473, 458, 451, 444, 441, 438, 433, 426, 419, 413, 406, 399, 393, 386, 358, 353, 341, 331, 291, 289, 276, 248, 239, 224, 203, 189, 187, 184, 180, 179, 97, 0]
c_fe_val = [0.974, 0.97, 0.965, 0.958, 0.945, 0.858, 0.706, 0.655, 0.66, 0.681, 0.858, 1.0, 0.993, 1.0, 0.95, 0.923, 0.93, 0.993, 0.97, 0.923, 0.84, 0.783, 0.63, 0.63, 0.92, 0.894, 0.92, 0.894, 0.732, 0.703, 0.78, 0.83, 0.84, 0.92, 0.92, 0.856, 0.775, 0.706, 0.775, 0.884, 0.978, 0.993, 0.97, 0.83, 0.688, 0.587, 0.46, 0.46, 0.572, 0.63, 0.696, 0.706, 0.874, 0.996, 0.996, 0.826, 0.565, 0.333, 0.333, 0.20, 0.13, 0.116, 0.314, 0.783, 0.783]
c_toc_age = [1644, 1567, 1194, 886, 832, 808, 762, 754, 700, 655, 642, 634, 622, 611, 599, 541, 529, 523, 503, 489, 479, 476, 471, 463, 454, 446, 443, 440, 434, 429, 426, 423, 419, 413, 406, 403, 396, 386, 381, 378, 373, 370, 366, 361, 351, 349, 343, 293, 291, 273, 271, 253, 251, 248, 214, 213, 189, 188, 96, 95, 0]
c_toc_val = [0.993, 0.94, 0.79, 0.746, 0.71, 0.674, 0.63, 0.594, 0.555, 0.555, 0.71, 0.891, 0.94, 0.964, 0.993, 0.928, 0.94, 0.928, 0.92, 0.93, 0.92, 0.89, 0.862, 0.85, 0.79, 0.688, 0.616, 0.63, 0.862, 0.928, 0.92, 0.78, 0.63, 0.50, 0.427, 0.312, 0.26, 0.225, 0.30, 0.486, 0.609, 0.56, 0.471, 0.488, 0.488, 0.604, 0.63, 0.63, 0.681, 0.681, 0.932, 0.932, 0.99, 0.768, 0.768, 0.329, 0.329, 0.304, 0.304, 0.568, 0.568]
c_series_names = ["Pyrite (TEs)", "Fe<sub>py</sub>/Fe<sub>HR</sub> (SGP)", "TOC/P (SGP)"]

# ---- Geologic time scale ----
ts_period_names = ["Stt", "Cl", "Ec", "Stn", "Tn", "Cry", "Ed", "Cm", "O", "S", "D", "C", "P", "Tr", "J", "K", "Pg", "Ng", ""]
ts_period_start = [1800, 1600, 1400, 1200, 1000, 850, 635, 541, 485, 443, 419, 359, 299, 252, 201, 145, 66, 23, 2.6]
ts_period_end = [1600, 1400, 1200, 1000, 850, 635, 541, 485, 443, 419, 359, 299, 252, 201, 145, 66, 23, 2.6, 0]
ts_period_col = ["#F779A3", "#FDC07A", "#F3CC8A", "#FED99A", "#FEBF4E", "#FECC5C", "#FED96A", "#7FA056", "#009270",
                 "#B3E1B6", "#CB8C37", "#67A599", "#F04028", "#812B92", "#34B2C9", "#7FC64E", "#FD9A52", "#FFE619", "#F9F97F"]
ts_era_names = ["", "Msp", "Np", "Pz", "Mz", "Cz"]
ts_era_start = [1800, 1600, 1000, 541, 252, 66]
ts_era_end = [1600, 1000, 541, 252, 66, 0]
ts_era_col = ["#F4436F", "#FBB464", "#FBB241", "#9BC08D", "#67C5CA", "#F2F91D"]

x_tick_ages = [1800, 1500, 1200, 900, 600, 500, 400, 300, 200, 100, 0]

# ================= HELPERS =================
BREAK = 541.0
PRE_SCALE = 0.43


def xp(a):
    a = np.asarray(a, dtype=float)
    return np.where(a >= BREAK, (BREAK - a) * PRE_SCALE, BREAK - a)


def flat(ages, vals):
    xs, ys = [], []
    for a, vs in zip(ages, vals):
        xs += [a] * len(vs)
        ys += list(vs)
    return xp(xs), ys


LIGHT = "#d6d6d6"
DARK = "#b3b3b3"
AX = "#404040"
TICKC = "#5a5a5a"
FONT = "Arial, Liberation Sans, sans-serif"
SMOOTH = 0.7

fig = go.Figure()


def add_band(lo_a, lo_v, hi_a, hi_v, color, xa, ya, eps):
    # closed polygon: upper edge left->right, short vertical end edges, lower edge right->left
    hx = list(xp(hi_a))
    lx = list(xp(lo_a))
    xs = hx + [hx[-1], lx[-1]] + lx[::-1] + [lx[0], hx[0]]
    ys = (list(hi_v) + [hi_v[-1] - eps, lo_v[-1] + eps] + list(lo_v)[::-1]
          + [lo_v[0] + eps, hi_v[0] - eps])
    fig.add_trace(go.Scatter(x=xs, y=ys, mode="lines", fill="toself", fillcolor=color,
                             line=dict(width=0, shape="spline", smoothing=SMOOTH),
                             hoverinfo="skip", showlegend=False, xaxis=xa, yaxis=ya))


def add_curve(ages, vals, color, width, xa, ya):
    fig.add_trace(go.Scatter(x=xp(ages), y=vals, mode="lines",
                             line=dict(color=color, width=width, shape="spline", smoothing=SMOOTH),
                             hoverinfo="skip", showlegend=False, xaxis=xa, yaxis=ya))


# ---------- Panel A ----------
add_band(a_ol_age, a_ol_val, a_ou_age, a_ou_val, LIGHT, "x", "y", 0.004)
add_band(a_il_age, a_il_val, a_iu_age, a_iu_val, DARK, "x", "y", 0.004)
ax_, ay_ = flat(a_pt_ages, a_pt_vals)
fig.add_trace(go.Scatter(x=ax_, y=ay_, mode="markers", marker=dict(color="black", size=4.2),
                         hoverinfo="skip", showlegend=False, xaxis="x", yaxis="y"))
for ag, vl in [(a_ol_age, a_ol_val), (a_ou_age, a_ou_val), (a_il_age, a_il_val), (a_iu_age, a_iu_val)]:
    add_curve(ag, vl, "#0a0aff", 1.6, "x", "y")
add_curve(a_md_age, a_md_val, "#0a0aff", 4, "x", "y")

# ---------- Panel B ----------
add_band(b_ol_age, b_ol_val, b_ou_age, b_ou_val, LIGHT, "x2", "y2", 0.025)
add_band(b_il_age, b_il_val, b_iu_age, b_iu_val, DARK, "x2", "y2", 0.025)
bx_, by_ = flat(b_dot_ages, b_dot_vals)
fig.add_trace(go.Scatter(x=bx_, y=by_, mode="markers", marker=dict(color="black", size=4.2),
                         hoverinfo="skip", showlegend=False, xaxis="x2", yaxis="y2"))
sx_, sy_ = flat(b_sq_ages, b_sq_vals)
fig.add_trace(go.Scatter(x=sx_, y=sy_, mode="markers",
                         marker=dict(symbol="square", color="white", size=5.5, line=dict(color="black", width=1.2)),
                         hoverinfo="skip", showlegend=False, xaxis="x2", yaxis="y2"))
for ag, vl in [(b_ol_age, b_ol_val), (b_ou_age, b_ou_val), (b_il_age, b_il_val), (b_iu_age, b_iu_val)]:
    add_curve(ag, vl, "#ff0000", 1.6, "x2", "y2")
add_curve(b_md_age, b_md_val, "#ff0000", 4, "x2", "y2")

# ---------- Panel C ----------
for ag, vl, col in [(c_pyr_age, c_pyr_val, "black"), (c_toc_age, c_toc_val, "#ff0000"), (c_fe_age, c_fe_val, "#0000ff")]:
    fig.add_trace(go.Scatter(x=xp(ag), y=vl, mode="lines", line=dict(color=col, width=3, shape="hv"),
                             hoverinfo="skip", showlegend=False, xaxis="x3", yaxis="y3"))

# ================= LAYOUT =================
W, H = 1160, 911
ML, MR, MT, MB = 74, 3, 17, 44
PH = H - MT - MB
PW = W - ML - MR


def py2paper(py):
    return (H - MB - py) / PH


def px2paper(px):
    return (px - ML) / PW


xr = [float(xp(1800)), float(xp(0))]
xtv = list(xp(x_tick_ages))
xtt = [str(a) for a in x_tick_ages]

common_x = dict(range=xr, tickvals=xtv, ticktext=xtt, ticks="outside", ticklen=6, tickwidth=1.5, tickcolor=AX,
                showline=True, linecolor=AX, linewidth=1.5, mirror=True, showgrid=False, zeroline=False,
                automargin=False, fixedrange=True)
common_y = dict(ticks="outside", ticklen=6, tickwidth=1.5, tickcolor=AX, showline=True, linecolor=AX, linewidth=1.5,
                mirror=True, showgrid=False, zeroline=False, automargin=False, fixedrange=True,
                tickfont=dict(size=16, color=TICKC, family=FONT))

yC_bottom = -(867 - 830) / 232.0

fig.update_layout(
    width=W, height=H, margin=dict(l=ML, r=MR, t=MT, b=MB),
    paper_bgcolor="white", plot_bgcolor="white", template="none",
    font=dict(family=FONT, color="black"), showlegend=False,
    xaxis=dict(common_x, anchor="y", domain=[0, 1], showticklabels=False),
    xaxis2=dict(common_x, anchor="y2", domain=[0, 1], showticklabels=False),
    xaxis3=dict(common_x, anchor="y3", domain=[0, 1], showticklabels=True, ticklabelstandoff=-3,
                tickfont=dict(size=16, color=TICKC, family=FONT)),
    yaxis=dict(common_y, anchor="x", domain=[py2paper(285), py2paper(17)], range=[0, 1],
               tickvals=[0, 0.25, 0.5, 0.75, 1.0], ticktext=["0.00", "0.25", "0.50", "0.75", "1.00"]),
    yaxis2=dict(common_y, anchor="x2", domain=[py2paper(577), py2paper(309)], range=[-2, 4],
                tickvals=[-2, -1, 0, 1, 2, 3, 4],
                ticktext=["\u22122.0", "\u22121.0", "0.0", "1.0", "2.0", "3.0", "4.0"]),
    yaxis3=dict(common_y, anchor="x3", domain=[0, py2paper(598)], range=[yC_bottom, 1.0],
                tickvals=[0, 0.25, 0.5, 0.75, 1.0], ticktext=["0.00", "0.25", "0.50", "0.75", "1.00"]),
)

shapes = []
shapes.append(dict(type="line", xref="x domain", yref="y", x0=0, x1=1, y0=0.8, y1=0.8,
                   line=dict(color="black", width=1.5, dash="dash")))
shapes.append(dict(type="line", xref="x domain", yref="y", x0=0, x1=1, y0=0.7, y1=0.7,
                   line=dict(color="black", width=2)))
shapes.append(dict(type="line", xref="x2 domain", yref="y2", x0=0, x1=1, y0=1.8, y1=1.8,
                   line=dict(color="black", width=2)))
x541 = float(xp(541))
for xr_, yr_, y0, y1 in [("x", "y", 0, 1), ("x2", "y2", -2, 4), ("x3", "y3", 0, 1)]:
    shapes.append(dict(type="line", xref=xr_, yref=yr_, x0=x541, x1=x541, y0=y0, y1=y1,
                       line=dict(color="#555555", width=2), layer="above"))

r1_top, r1_bot = 0.0, -(849 - 830) / 232.0
r2_top, r2_bot = r1_bot, yC_bottom
annotations = []
for nm, s, e, c in zip(ts_period_names, ts_period_start, ts_period_end, ts_period_col):
    shapes.append(dict(type="rect", xref="x3", yref="y3", x0=float(xp(s)), x1=float(xp(e)), y0=r1_bot, y1=r1_top,
                       fillcolor=c, line=dict(color="black", width=1), layer="above"))
    if nm:
        annotations.append(dict(x=float((xp(s) + xp(e)) / 2), y=(r1_top + r1_bot) / 2, xref="x3", yref="y3",
                                text=nm, showarrow=False, font=dict(size=15, color="#1a1a1a", family=FONT)))
for nm, s, e, c in zip(ts_era_names, ts_era_start, ts_era_end, ts_era_col):
    shapes.append(dict(type="rect", xref="x3", yref="y3", x0=float(xp(s)), x1=float(xp(e)), y0=r2_bot, y1=r2_top,
                       fillcolor=c, line=dict(color="black", width=1), layer="above"))
    if nm:
        annotations.append(dict(x=float((xp(s) + xp(e)) / 2), y=(r2_top + r2_bot) / 2, xref="x3", yref="y3",
                                text=nm, showarrow=False, font=dict(size=15, color="#1a1a1a", family=FONT)))


def ann(px, py, text, size=16, angle=0, color="black", xanchor="center"):
    annotations.append(dict(x=px2paper(px), y=py2paper(py), xref="paper", yref="paper", text=text,
                            showarrow=False, textangle=angle, xanchor=xanchor, yanchor="middle",
                            font=dict(size=size, color=color, family=FONT)))


ann(19, 18, "<b>A</b>", size=21)
ann(19, 311, "<b>B</b>", size=21)
ann(19, 601, "<b>C</b>", size=21)
ann(23, 158, "Fe<sub>py</sub>/Fe<sub>HR</sub>", size=17, angle=-90)
ann(23, 443, "Log<sub>10</sub>(TOC/P)", size=17, angle=-90)
ann(21, 722, "Fraction ferruginous", size=17, angle=-90)
ann(113, 65, "Euxinic", size=16, angle=-90)
ann(105, 192, "Ferruginous", size=16, angle=-90)
ann(103, 360, "Euxinic", size=16, angle=-90)
ann(103, 485, "Ferruginous", size=16, angle=-90)
ann(616, 903, "Age (Ma)", size=17)

# legend keys (panel B): dot + square, (panel C): line samples
shapes.append(dict(type="circle", xref="paper", yref="paper", x0=px2paper(183), x1=px2paper(187),
                   y0=py2paper(534), y1=py2paper(530), fillcolor="black", line=dict(color="black", width=0)))
shapes.append(dict(type="rect", xref="paper", yref="paper", x0=px2paper(182.5), x1=px2paper(187.5),
                   y0=py2paper(554.5), y1=py2paper(549.5), fillcolor="white", line=dict(color="black", width=1.2)))
ann(192, 532, "SGP phase 1 data", size=17, xanchor="left")
ann(192, 551, "<i>(71)</i>", size=17, xanchor="left")
for (yy, col, nm) in zip([727, 756, 783], ["black", "#0000ff", "#ff0000"], c_series_names):
    shapes.append(dict(type="line", xref="paper", yref="paper", x0=px2paper(317), x1=px2paper(342),
                       y0=py2paper(yy), y1=py2paper(yy), line=dict(color=col, width=3)))
    ann(347, yy, nm, size=17, xanchor="left")

fig.update_layout(shapes=shapes, annotations=annotations)
fig.write_html("out.html", config={"displayModeBar": False, "staticPlot": True},
               post_script="document.body.style.margin='0';document.body.style.padding='0';")
